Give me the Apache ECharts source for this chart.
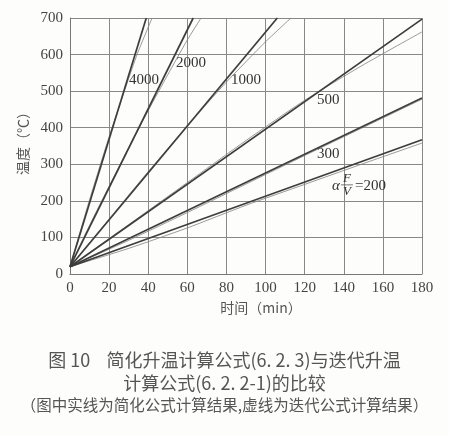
<!DOCTYPE html>
<html lang="zh">
<head>
    <meta charset="UTF-8">
    <script src="https://cdn.jsdelivr.net/npm/echarts@6/dist/echarts.min.js"></script>
    <title>简化升温计算公式与迭代升温计算公式的比较</title>
    <style>
        html, body { margin: 0; padding: 0; background: #fdfdfb; }
        #main { width: 449px; height: 436px; }
    </style>
</head>
<body>
<div id="main"></div>
<script>
    // 时间 (min) / 温度 (℃)
    var xTicks = [0, 20, 40, 60, 80, 100, 120, 140, 160, 180];
    var yTicks = [0, 100, 200, 300, 400, 500, 600, 700];

    // 实线：简化公式 (6.2.3)
    var solid4000 = [[0, 20], [39, 700]];
    var solid2000 = [[0, 20], [63, 700]];
    var solid1000 = [[0, 20], [106, 700]];
    var solid500 = [[0, 20], [180, 697]];
    var solid300 = [[0, 20], [180, 481]];
    var solid200 = [[0, 20], [180, 367]];

    // 虚线：迭代公式 (6.2.2-1)
    var iter4000 = [[0, 20], [5, 112], [10, 203], [15, 290], [20, 375], [25, 455], [30, 535], [35, 610], [42, 700]];
    var iter2000 = [[0, 20], [10, 133], [20, 240], [30, 345], [40, 447], [50, 545], [60, 640], [67, 700]];
    var iter1000 = [[0, 20], [20, 150], [40, 280], [60, 405], [80, 525], [100, 635], [113, 700]];
    var iter500 = [[0, 20], [30, 135], [60, 250], [90, 365], [120, 475], [150, 572], [180, 662]];
    var iter300 = [[0, 20], [30, 92], [60, 168], [90, 246], [120, 324], [150, 401], [180, 478]];
    var iter200 = [[0, 20], [30, 70], [60, 126], [90, 188], [120, 245], [150, 302], [180, 358]];

    // 曲线标注 (数据坐标)
    var curveLabels = [
        {text: '4000', at: [37.8, 530]},
        {text: '2000', at: [61.9, 577]},
        {text: '1000', at: [90, 530]},
        {text: '500', at: [132, 476]},
        {text: '300', at: [132, 328]}
    ];

    var serif = 'Liberation Serif';
    var cjk = 'Noto Sans CJK SC';

    function solidLine(name, data) {
        return {
            name: name, type: 'line', data: data, showSymbol: false, silent: true,
            lineStyle: {color: '#3d3d3d', width: 1.7}
        };
    }
    function iterLine(name, data) {
        return {
            name: name, type: 'line', data: data, showSymbol: false, silent: true, smooth: 0.2,
            lineStyle: {color: '#808080', width: 0.8}
        };
    }

    var myChart = echarts.init(document.getElementById('main'));

    var option = {
        backgroundColor: '#fdfdfb',
        animation: false,
        grid: {left: 70, right: 27, top: 18, bottom: 162},
        xAxis: {
            type: 'value',
            min: xTicks[0], max: xTicks[xTicks.length - 1], interval: 20,
            name: '时间（min）', nameLocation: 'middle', nameGap: 24,
            nameTextStyle: {fontFamily: cjk, fontSize: 14, color: '#555', padding: [0, 0, 0, 30]},
            axisLine: {lineStyle: {color: '#777', width: 1}},
            axisTick: {show: false},
            axisLabel: {fontFamily: serif, fontSize: 15, color: '#444', margin: 7},
            splitLine: {lineStyle: {color: '#888', width: 1}}
        },
        yAxis: {
            type: 'value',
            min: yTicks[0], max: yTicks[yTicks.length - 1], interval: 100,
            name: '温度（℃）', nameLocation: 'middle', nameGap: 40,
            nameTextStyle: {fontFamily: cjk, fontSize: 14, color: '#555', padding: [0, 0, 0, 12]},
            axisLine: {show: true, lineStyle: {color: '#777', width: 1}},
            axisTick: {show: false},
            axisLabel: {fontFamily: serif, fontSize: 15, color: '#444', margin: 7},
            splitLine: {lineStyle: {color: '#888', width: 1}}
        },
        series: [
            iterLine('迭代4000', iter4000),
            iterLine('迭代2000', iter2000),
            iterLine('迭代1000', iter1000),
            iterLine('迭代500', iter500),
            iterLine('迭代300', iter300),
            iterLine('迭代200', iter200),
            solidLine('简化4000', solid4000),
            solidLine('简化2000', solid2000),
            solidLine('简化1000', solid1000),
            solidLine('简化500', solid500),
            solidLine('简化300', solid300),
            solidLine('简化200', solid200)
        ]
    };
    myChart.setOption(option);

    // 标注与图题
    var graphics = [];
    curveLabels.forEach(function (item) {
        var p = myChart.convertToPixel({gridIndex: 0}, item.at);
        graphics.push({
            type: 'text', x: p[0], y: p[1], silent: true,
            style: {text: item.text, fontFamily: serif, fontSize: 15, fill: '#333', align: 'center', verticalAlign: 'middle'}
        });
    });

    var a = myChart.convertToPixel({gridIndex: 0}, [136, 241]);
    graphics.push({
        type: 'group', x: a[0], y: a[1], silent: true,
        children: [
            {type: 'text', x: 0, y: 0, style: {text: 'α', fontFamily: serif, fontStyle: 'italic', fontSize: 15, fill: '#333', align: 'center', verticalAlign: 'middle'}},
            {type: 'text', x: 11, y: -7, style: {text: 'F', fontFamily: serif, fontStyle: 'italic', fontSize: 13, fill: '#333', align: 'center', verticalAlign: 'middle'}},
            {type: 'line', shape: {x1: 5, y1: -1, x2: 17, y2: -1}, style: {stroke: '#555', lineWidth: 0.8}},
            {type: 'text', x: 11, y: 6, style: {text: 'V', fontFamily: serif, fontStyle: 'italic', fontSize: 13, fill: '#333', align: 'center', verticalAlign: 'middle'}},
            {type: 'text', x: 19, y: 0, style: {text: '=200', fontFamily: serif, fontSize: 15, fill: '#333', align: 'left', verticalAlign: 'middle'}}
        ]
    });

    graphics.push(
        {type: 'text', left: 'center', top: 351, silent: true,
            style: {text: '图 10    简化升温计算公式(6. 2. 3)与迭代升温', fontFamily: cjk, fontSize: 18, fill: '#555'}},
        {type: 'text', left: 'center', top: 374, silent: true,
            style: {text: '计算公式(6. 2. 2-1)的比较', fontFamily: cjk, fontSize: 18, fill: '#555'}},
        {type: 'text', left: 'center', top: 397, silent: true,
            style: {text: '（图中实线为简化公式计算结果,虚线为迭代公式计算结果）', fontFamily: cjk, fontSize: 15.5, fill: '#555'}}
    );

    myChart.setOption({graphic: graphics});
</script>
</body>
</html>
